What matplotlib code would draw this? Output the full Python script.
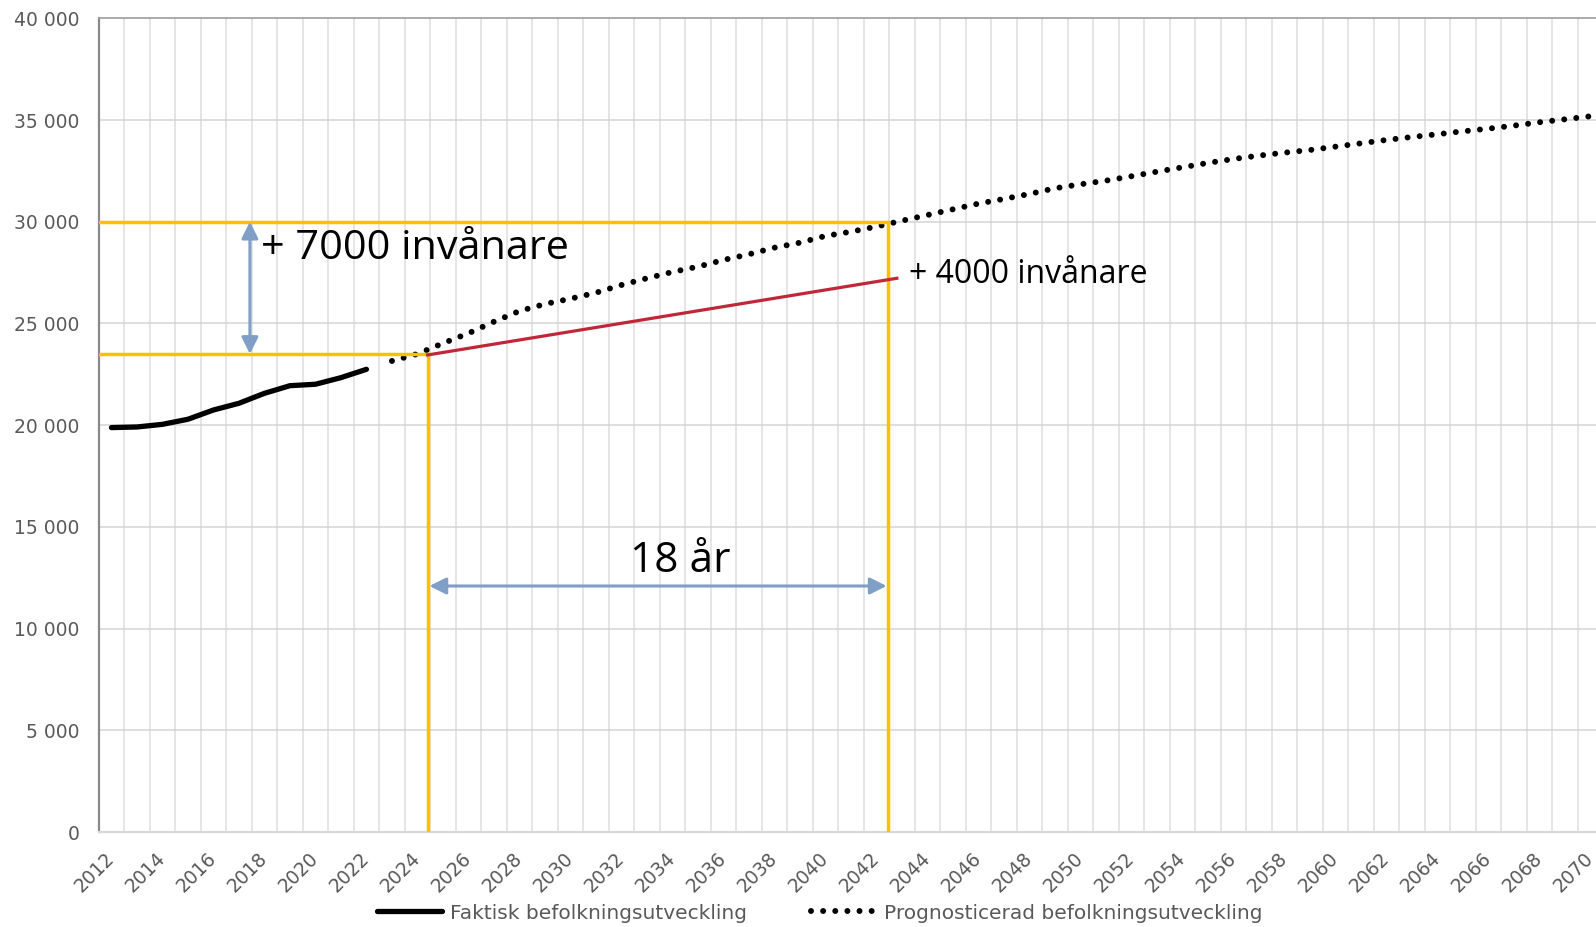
import numpy as np
import matplotlib
matplotlib.use("Agg")
import matplotlib.pyplot as plt
from matplotlib.ticker import FixedLocator, FuncFormatter

# ---------------------------------------------------------
# Data
# ---------------------------------------------------------
years_actual = list(range(2012, 2023))
pop_actual = [19880, 19910, 20040, 20290, 20745, 21075, 21565, 21940, 22010, 22335, 22745]

years_prog = list(range(2023, 2071))
pop_prog = [23155, 23500, 24025, 24515, 25085, 25610, 25955, 26215, 26510, 26890,
            27220, 27530, 27790, 28120, 28400, 28725, 28970, 29300, 29510, 29760,
            30050, 30330, 30610, 30890, 31120, 31365, 31645, 31840, 32020, 32235,
            32460, 32675, 32890, 33085, 33250, 33395, 33525, 33690, 33855, 34020,
            34165, 34300, 34445, 34575, 34725, 34890, 35035, 35185]

label_actual = "Faktisk befolkningsutveckling"
label_prog = "Prognosticerad befolkningsutveckling"

# annotation references
start_year, end_year = 2024.4, 2042.45
start_pop, target_pop = 23500, 30000
linear_end = (2042.8, 27220)

text_7000 = "+ 7000 invånare"
text_4000 = "+ 4000 invånare"
text_years = "18 år"

YELLOW = "#FFC000"
RED = "#C0283A"
BLUE = "#7F9FC6"
GRAY_TXT = "#595959"

# ---------------------------------------------------------
# Figure
# ---------------------------------------------------------
fig = plt.figure(figsize=(15.96, 9.27), dpi=100)
ax = fig.add_axes([98.7 / 1596, 95 / 927, 1504.5 / 1596, 813.7 / 927])

ax.set_xlim(2011.5, 2070.5)
ax.set_ylim(0, 40000)

# gridlines: vertical at year boundaries, horizontal every 5000
ax.xaxis.set_major_locator(FixedLocator(list(range(2012, 2071, 2))))
ax.xaxis.set_minor_locator(FixedLocator(list(np.arange(2012.5, 2070.5, 1.0))))
ax.yaxis.set_major_locator(FixedLocator(list(range(0, 40001, 5000))))
ax.yaxis.set_major_formatter(FuncFormatter(lambda v, p: f"{int(v):,}".replace(",", " ")))

ax.grid(False)
ax.grid(True, which="minor", axis="x", color="#dedede", linewidth=1.1)
ax.grid(True, which="major", axis="y", color="#d4d4d4", linewidth=1.1)
ax.set_axisbelow(True)

ax.tick_params(axis="both", which="both", length=0)
ax.tick_params(axis="y", pad=14, labelsize=13.5, labelcolor=GRAY_TXT)
ax.tick_params(axis="x", pad=17, labelsize=13.5, labelcolor=GRAY_TXT)
for lbl in ax.get_xticklabels():
    lbl.set_rotation(45)
    lbl.set_rotation_mode("anchor")
    lbl.set_ha("right")
    lbl.set_va("center")

ax.spines["right"].set_visible(False)
ax.spines["left"].set_color("#898989")
ax.spines["left"].set_linewidth(1.6)
ax.spines["top"].set_color("#a6a6a6")
ax.spines["top"].set_linewidth(1.3)
ax.spines["bottom"].set_color("#d9d9d9")
ax.spines["bottom"].set_linewidth(1.6)

# series
ax.plot(years_actual, pop_actual, color="black", linewidth=3.8,
        solid_capstyle="round", label=label_actual, zorder=3)
ax.plot(years_prog, pop_prog, color="black", linewidth=4.3,
        linestyle=(0, (0.001, 2.03)), dash_capstyle="round",
        label=label_prog, zorder=3)

# yellow reference lines
ax.plot([2011.5, end_year], [target_pop, target_pop], color=YELLOW, linewidth=2.5, zorder=4)
ax.plot([2011.5, start_year], [start_pop, start_pop], color=YELLOW, linewidth=2.5, zorder=4)
ax.plot([start_year, start_year], [0, start_pop], color=YELLOW, linewidth=2.5, zorder=4)
ax.plot([end_year, end_year], [0, target_pop], color=YELLOW, linewidth=2.5, zorder=4)

# linear growth line
ax.plot([start_year, linear_end[0]], [start_pop - 50, linear_end[1]], color=RED,
        linewidth=2.3, zorder=5)

# arrows
arrow_kw = dict(arrowstyle="<|-|>", color=BLUE, lw=2.2, mutation_scale=25,
                shrinkA=0, shrinkB=0)
ax.annotate("", xy=(2017.43, target_pop), xytext=(2017.43, start_pop),
            arrowprops=arrow_kw, zorder=5)
ax.annotate("", xy=(2042.4, 12093), xytext=(2024.47, 12093),
            arrowprops=arrow_kw, zorder=5)

# labels
ax.text(2017.85, 28154, text_7000, fontsize=29.8, family="Open Sans",
        ha="left", va="baseline", color="black", zorder=6)
ax.text(2034.3, 12780, text_years, fontsize=30.5, family="Open Sans",
        ha="center", va="baseline", color="black", zorder=6)
ax.text(2043.28, 27000, text_4000, fontsize=23, family="Open Sans",
        ha="left", va="baseline", color="black", zorder=6)

# legend
leg = fig.legend(loc="center", bbox_to_anchor=(0.5135, 0.0151), ncol=2,
                 frameon=False, fontsize=14.5, handlelength=3.2,
                 handletextpad=0.4, columnspacing=3.2)
for t in leg.get_texts():
    t.set_color(GRAY_TXT)

fig.savefig("out.png", dpi=100)
